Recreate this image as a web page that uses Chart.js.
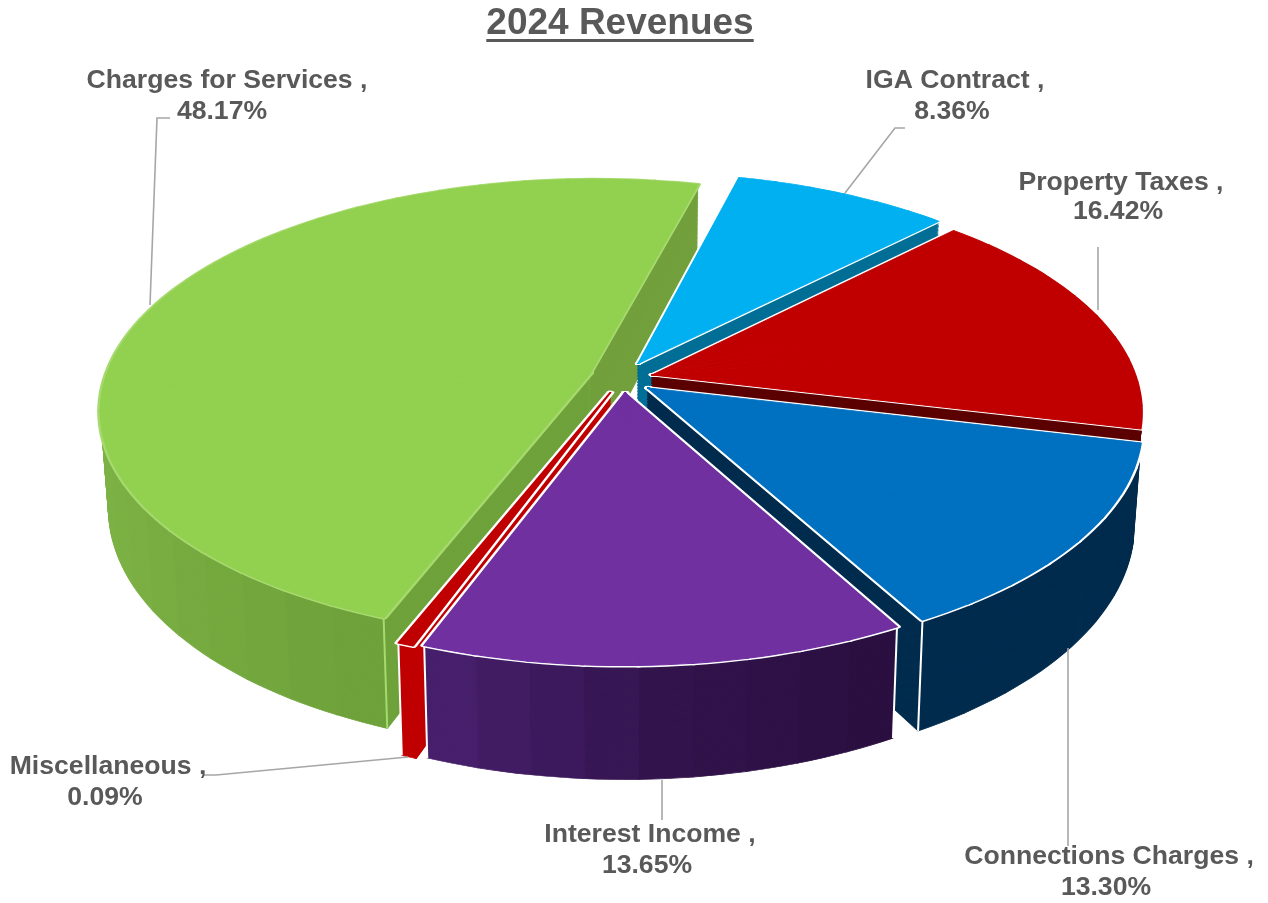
<!DOCTYPE html>
<html>
<head>
<meta charset="utf-8">
<style>html,body{margin:0;padding:0;background:#fff}canvas{display:block}</style>
<script src="https://cdn.jsdelivr.net/npm/chart.js@4"></script>
</head>
<body>
<canvas id="c" width="1268" height="903"></canvas>
<script>
const titleText = '2024 Revenues';
const categories = ['IGA Contract', 'Property Taxes', 'Connections Charges', 'Interest Income', 'Miscellaneous', 'Charges for Services'];
const shares = [8.36, 16.42, 13.30, 13.65, 0.09, 48.17];
const topColors = ['#00B0F0', '#C00000', '#0070C0', '#7030A0', '#C00000', '#92D050'];
const haloColors = ['#FFFFFF', '#FFFFFF', '#FFFFFF', '#FFFFFF', '#FFFFFF', '#A6D96E'];
const wallStops = [
  ['#006F96', '#006F96'],
  ['#5C0000', '#5C0000'],
  ['#002C4E', '#002C4E'],
  ['#2A0F40', '#33144D', '#4A2270'],
  ['#C00000', '#C00000'],
  ['#6EA13A', '#7CB145', '#80B648', '#72A03C', '#72A03C']
];
const shiftU = [0.021, 0.05, 0.041, -0.006, -0.036, -0.0785];
const shiftV = [0.06, 0.009, -0.048, -0.07, -0.068, 0.0175];
const paintOrder = [5, 0, 1, 4, 2, 3];
const minSweepDeg = 1.6;
const startRotationDeg = 14.2;
const labelCentres = [[955, 81], [1121, 183], [1109, 857], [650, 835], [108, 767], [227, 81]];
const labelLineGap = [31, 29, 31, 31, 31, 31];
const leaders = [
  [[845, 193], [895, 128], [905, 128]],
  [[1098, 310], [1098, 247]],
  [[1068, 648], [1068, 846]],
  [[662, 780], [662, 820]],
  [[408, 757], [216, 775], [204, 775]],
  [[150, 305], [157, 118], [170, 118]]
];
const view = {cx: 628, cy: 377, R: 484, S: 225, k: 0.155, depth: 95, taper: 0.015};
const textColor = '#595959';
const FONT = '"Liberation Sans", Arial, sans-serif';

function project(u, v, t) {
  const w = 1 + view.k * v;
  const x = view.R * u / w;
  const y = view.cy - view.S * v / w;
  return [view.cx + x * (1 - view.taper * t), y + view.depth * t / w];
}
function hex(c) { return [1, 3, 5].map(i => parseInt(c.substr(i, 2), 16)); }
function ramp(stops, f) {
  const p = Math.min(f, 0.9999) * (stops.length - 1), i = Math.floor(p), q = p - i;
  const a = hex(stops[i]), b = hex(stops[i + 1]);
  return 'rgb(' + a.map((x, n) => Math.round(x + (b[n] - x) * q)).join(',') + ')';
}
function subArc(ctx, arc, a1, a2, ex, ey, t, fill, stroke, width) {
  const r = arc.outerRadius;
  const P = project(ex, ey, t);
  const A = project(ex + Math.cos(a1), ey - Math.sin(a1), t);
  const B = project(ex + Math.cos(a2), ey - Math.sin(a2), t);
  const ax = r * Math.cos(a1), ay = r * Math.sin(a1), bx = r * Math.cos(a2), by = r * Math.sin(a2);
  const det = ax * by - bx * ay;
  const Ax = A[0] - P[0], Ay = A[1] - P[1], Bx = B[0] - P[0], By = B[1] - P[1];
  ctx.save();
  ctx.transform((Ax * by - Bx * ay) / det, (Ay * by - By * ay) / det,
                (Bx * ax - Ax * bx) / det, (By * ax - Ay * bx) / det, P[0], P[1]);
  const el = Object.assign(Object.create(arc), {
    x: 0, y: 0, startAngle: a1, endAngle: a2, circumference: a2 - a1, innerRadius: 0, outerRadius: r,
    options: {backgroundColor: fill, borderColor: stroke, borderWidth: width, borderAlign: 'center',
              borderRadius: 0, offset: 0, spacing: 0, circular: true, borderJoinStyle: 'round'}
  });
  el.draw(ctx);
  ctx.restore();
}
const tiltedPie = {
  id: 'tiltedPie',
  beforeDatasetsDraw(chart) {
    const ctx = chart.ctx, arcs = chart.getDatasetMeta(0).data;
    const minSweep = minSweepDeg * Math.PI / 180;
    paintOrder.forEach(i => {
      const arc = arcs[i];
      const mid = (arc.startAngle + arc.endAngle) / 2;
      const sweep = Math.max(arc.endAngle - arc.startAngle, minSweep);
      const a0 = mid - sweep / 2;
      const ex = shiftU[i], ey = shiftV[i];
      const n = Math.max(1, Math.ceil(sweep / (Math.PI / 30)));
      const layers = 64;
      for (let l = layers; l >= 1; l--) {
        const t = l / layers;
        for (let s = 0; s < n; s++) {
          const col = ramp(wallStops[i], (s + 0.5) / n);
          subArc(ctx, arc, a0 + sweep * s / n, a0 + sweep * (s + 1) / n, ex, ey, t, col, col, 1);
        }
      }
      [a0, a0 + sweep].forEach(a => {
        const u = ex + Math.cos(a), v = ey - Math.sin(a);
        if (v < -0.3 && !(i === 4 && a === a0)) {
          const p = project(u, v, 0), q = project(u, v, 1);
          ctx.save();
          ctx.strokeStyle = haloColors[i];
          ctx.lineWidth = 2;
          ctx.beginPath(); ctx.moveTo(p[0], p[1]); ctx.lineTo(q[0], q[1]); ctx.stroke();
          ctx.restore();
        }
      });
      for (let s = 0; s < n; s++) {
        subArc(ctx, arc, a0 + sweep * s / n, a0 + sweep * (s + 1) / n, ex, ey, 0, haloColors[i], haloColors[i], 6);
      }
      for (let s = 0; s < n; s++) {
        const end = s === n - 1 ? a0 + sweep : a0 + sweep * (s + 1) / n + 0.004;
        subArc(ctx, arc, a0 + sweep * s / n, end, ex, ey, 0, topColors[i], topColors[i], 1.6);
      }
    });
    return false;
  },
  afterDraw(chart) {
    const ctx = chart.ctx;
    ctx.save();
    ctx.strokeStyle = '#A6A6A6';
    ctx.lineWidth = 1.6;
    leaders.forEach(pts => {
      ctx.beginPath();
      pts.forEach((p, n) => n ? ctx.lineTo(p[0], p[1]) : ctx.moveTo(p[0], p[1]));
      ctx.stroke();
    });
    ctx.fillStyle = textColor;
    ctx.textAlign = 'center';
    ctx.textBaseline = 'middle';
    ctx.font = 'bold 26.6px ' + FONT;
    categories.forEach((name, i) => {
      const [x, y] = labelCentres[i];
      ctx.fillText(name + ' ,', x, y);
      ctx.fillText(shares[i].toFixed(2) + '%', x - (i === 5 ? 5 : 3), y + labelLineGap[i]);
    });
    ctx.font = 'bold 37px ' + FONT;
    const w = ctx.measureText(titleText).width;
    ctx.fillRect(620 - w / 2, 39, w, 3);
    ctx.restore();
  }
};
new Chart(document.getElementById('c'), {
  type: 'pie',
  data: {labels: categories, datasets: [{data: shares, backgroundColor: topColors, borderWidth: 0}]},
  plugins: [tiltedPie],
  options: {
    responsive: false,
    animation: false,
    rotation: startRotationDeg,
    layout: {padding: {right: 28}},
    plugins: {
      legend: {display: false},
      tooltip: {enabled: false},
      title: {display: true, text: titleText, fullSize: false, color: textColor,
              font: {family: FONT, size: 37, weight: 'bold'}, padding: {top: 2, bottom: 0}}
    }
  }
});
</script>
</body>
</html>
